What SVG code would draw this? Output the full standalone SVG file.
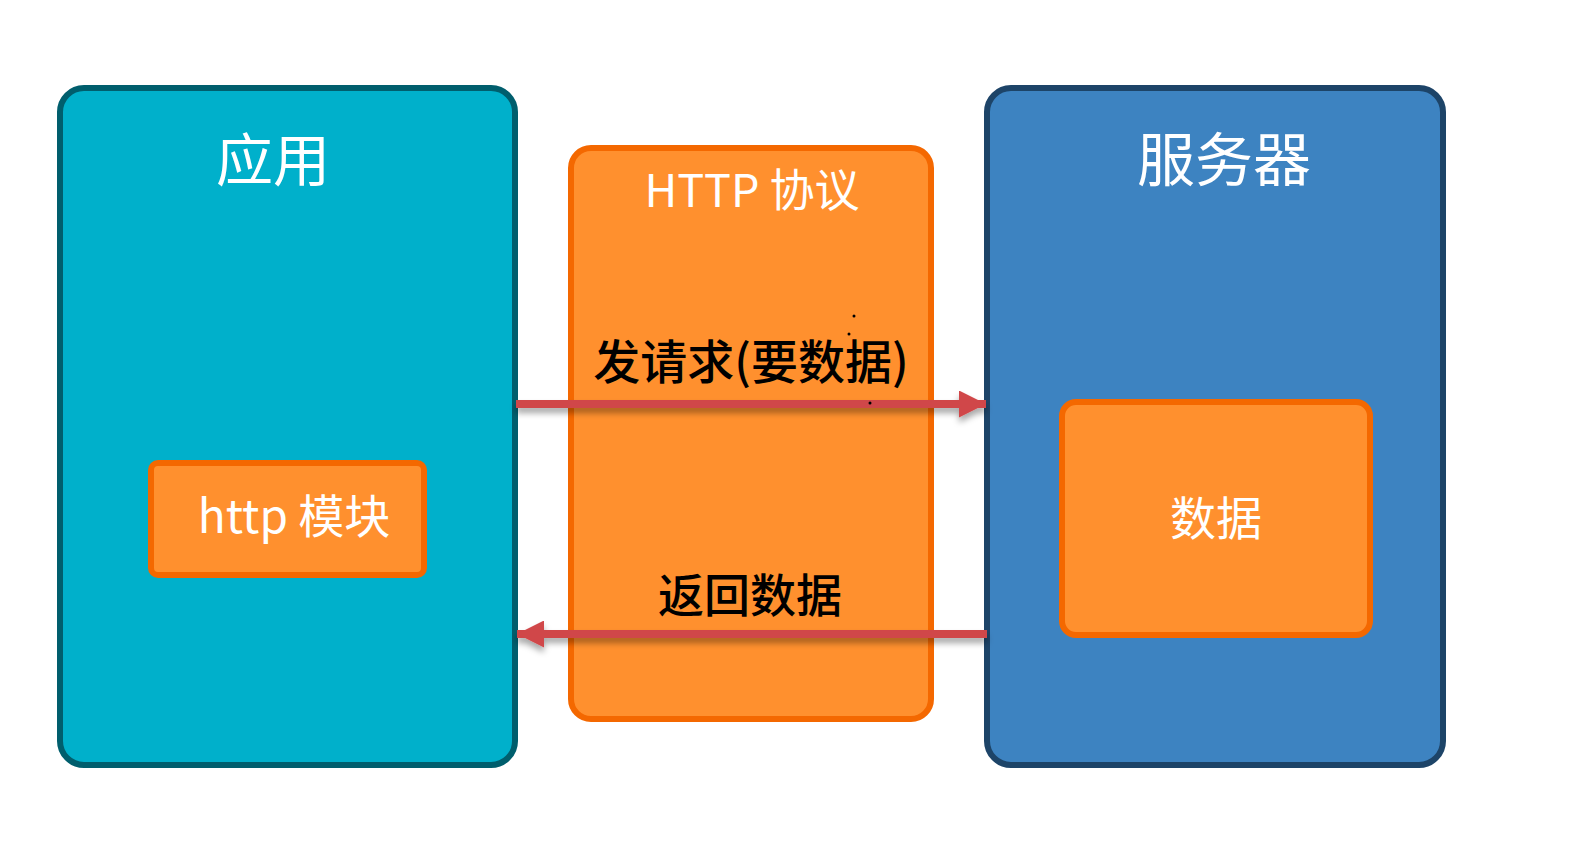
<svg xmlns="http://www.w3.org/2000/svg" width="1590" height="862" viewBox="0 0 1590 862">
<style>
  text { font-family: "Noto Sans CJK SC", "Noto Sans", sans-serif; text-anchor: middle; }
  .w { fill: #ffffff; }
  .k { fill: #000000; font-weight: 500; }
  .orange { fill: #FF902E; stroke: #F46800; stroke-width: 6; }
  .arrow { stroke: #D0464A; stroke-width: 8; fill: none; }
</style>
<defs>
  <filter id="sh" x="-5%" y="-100%" width="110%" height="300%">
    <feDropShadow dx="0" dy="5" stdDeviation="3" flood-color="#000" flood-opacity="0.35"/>
  </filter>
  <marker id="ah" viewBox="0 0 27 27" refX="27" refY="13.5" markerWidth="27" markerHeight="27" markerUnits="userSpaceOnUse" orient="auto">
    <path d="M0,0 L27,13.5 L0,27 Z" fill="#D0464A"/>
  </marker>
</defs>
<rect width="1590" height="862" fill="#ffffff"/>
<g id="app">
  <rect x="60" y="88" width="455" height="677" rx="24" fill="#00B0CB" stroke="#005E6D" stroke-width="6"/>
  <text class="w" x="273" y="181" font-size="57">应用</text>
</g>
<g id="server">
  <rect x="987" y="88" width="456" height="677" rx="24" fill="#3D83C1" stroke="#1D4468" stroke-width="6"/>
  <text class="w" x="1224" y="181" font-size="58">服务器</text>
</g>
<g id="http-protocol">
  <rect class="orange" x="571" y="148" width="360" height="571" rx="20"/>
  <text class="w" x="752" y="207" font-size="45">HTTP 协议</text>
</g>
<g id="http-module">
  <rect class="orange" x="151" y="463" width="273" height="112" rx="7"/>
  <text class="w" x="294" y="533" font-size="46">http 模块</text>
</g>
<g id="data">
  <rect class="orange" x="1062" y="402" width="308" height="233" rx="14"/>
  <text class="w" x="1216" y="535" font-size="46">数据</text>
</g>
<g id="connectors">
  <g filter="url(#sh)">
    <line class="arrow" x1="516" y1="404" x2="986" y2="404" marker-end="url(#ah)"/>
    <line class="arrow" x1="987" y1="634" x2="517" y2="634" marker-end="url(#ah)"/>
  </g>
  <text class="k" x="751" y="379" font-size="47">发请求(要数据)</text>
  <text class="k" x="750" y="612" font-size="46">返回数据</text>
  <circle cx="854" cy="316" r="1.5" fill="#000"/>
  <circle cx="849" cy="334" r="1.5" fill="#000"/>
  <circle cx="870" cy="403" r="1.5" fill="#000"/>
</g>
</svg>
